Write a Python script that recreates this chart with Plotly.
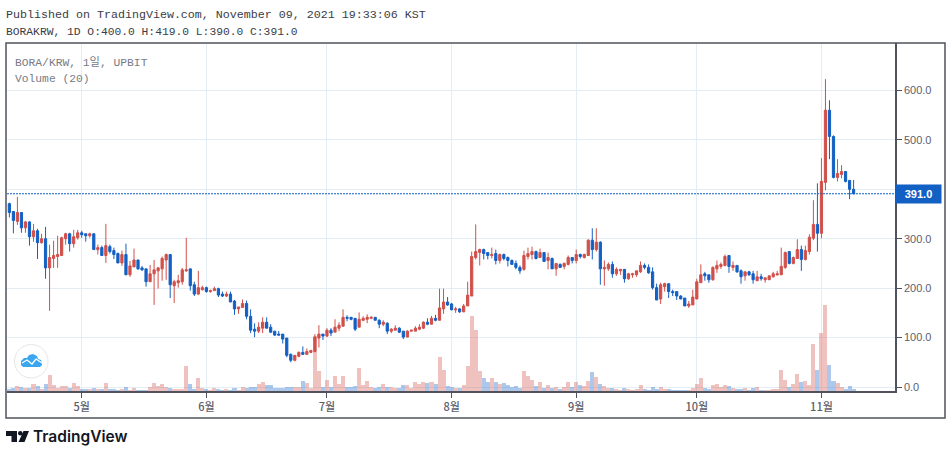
#!/usr/bin/env python3
import pandas as pd
import plotly.graph_objects as pgo

W, H = 952, 455
LEFT, RIGHT, TOP, BOTTOM = 7, 895, 43, 391

RED, BLUE = "#d1504a", "#1360c4"
RED_VOL, BLUE_VOL = "rgba(209,80,74,0.35)", "rgba(19,96,196,0.35)"
GRID, FRAME, GREY = "#e3edf4", "#50535e", "#5d606b"

start_date = "2021-04-13"
tick_dates = ["2021-05-01", "2021-06-01", "2021-07-01", "2021-08-01", "2021-09-01", "2021-10-01", "2021-11-01"]
tick_labels = ["5월", "6월", "7월", "8월", "9월", "10월", "11월"]
price_ticks = [0, 100, 200, 300, 400, 500, 600]
price_labels = ["0.0", "100.0", "200.0", "300.0", "", "500.0", "600.0"]

opens = [
  371,355,335,353,322,334,304,316,292,300,
  241,260,264,266,300,310,290,302,312,310,
  306,310,278,282,266,284,276,270,251,268,
  227,243,257,241,239,213,229,235,239,257,
  268,205,211,213,235,239,207,188,197,201,
  193,195,199,188,184,188,174,158,161,169,
  143,117,113,119,131,121,113,107,107,99,
  66,54,62,70,66,70,72,99,107,103,
  115,111,119,123,141,141,139,121,135,137,
  139,141,135,127,129,113,115,119,113,101,
  113,113,117,119,131,127,139,135,158,172,
  168,156,158,152,164,184,262,272,278,272,
  266,270,256,268,262,256,250,242,238,264,
  268,274,262,272,256,260,239,248,244,248,
  262,256,268,262,266,297,278,293,239,239,
  248,229,235,238,219,227,227,233,246,242,
  233,201,178,203,209,193,193,184,180,164,
  166,178,211,229,227,217,239,244,246,266,
  242,246,235,225,233,229,215,223,217,217,
  223,227,227,242,274,250,260,278,258,274,
  301,329,311,414,560,507,424,430,436,418,400]
highs = [
  373,355,385,353,336,335,330,320,310,324,
  288,296,306,304,312,312,318,318,316,310,
  312,310,288,286,330,288,282,272,276,290,
  255,280,257,245,239,247,257,243,264,270,
  268,217,227,241,302,239,213,235,205,203,
  197,203,201,193,193,193,176,162,177,175,
  157,129,131,141,141,127,113,113,107,99,
  68,64,72,82,78,74,107,125,107,119,
  119,137,131,157,145,141,139,151,143,147,
  143,141,137,135,131,119,125,121,113,115,
  115,123,127,133,139,144,146,199,199,182,
  170,162,160,168,213,274,329,280,280,272,
  282,278,270,270,264,258,256,246,276,282,
  284,276,280,272,272,262,250,250,252,266,
  262,278,270,270,299,321,321,295,256,252,
  254,242,239,238,231,231,235,254,250,248,
  242,209,211,211,209,197,193,186,180,174,
  197,219,248,233,227,244,256,252,268,266,
  254,246,238,233,235,235,235,229,221,225,
  233,235,282,274,274,264,299,286,286,309,
  378,412,463,623,580,509,461,449,436,418,419]
lows = [
  343,311,328,312,312,286,294,259,290,219,
  154,241,241,265,288,274,282,298,302,294,
  302,278,268,266,251,270,259,251,245,227,
  223,243,237,235,203,213,166,199,215,217,
  180,170,201,207,233,195,184,186,195,191,
  191,195,182,182,182,172,146,148,161,137,
  109,101,109,109,119,109,103,105,88,60,
  50,52,60,66,66,70,70,80,95,101,
  103,111,113,123,133,135,113,121,133,129,
  137,135,119,123,107,109,115,109,97,101,
  113,113,115,117,125,127,133,135,148,164,
  156,150,150,152,164,184,258,246,258,258,
  260,248,250,256,244,248,238,229,235,258,
  258,258,262,254,238,239,225,242,238,246,
  250,250,260,260,266,258,274,207,205,235,
  221,225,227,211,217,221,223,231,238,229,
  197,176,168,193,180,184,176,178,164,160,
  166,178,211,215,211,215,231,239,244,231,
  235,231,209,215,225,209,215,215,211,217,
  221,225,227,239,248,248,260,235,256,268,
  297,274,301,398,461,422,416,422,414,380,390]
closes = [
  353,337,353,322,334,304,316,292,300,241,
  262,266,268,302,310,290,304,312,308,306,
  310,278,282,266,286,274,268,251,268,227,
  245,257,239,237,213,229,237,241,260,268,
  207,213,215,237,237,205,188,201,201,193,
  195,199,186,184,188,172,158,162,169,143,
  115,113,121,131,119,111,105,105,97,64,
  54,64,70,66,72,74,101,107,103,115,
  109,121,125,141,139,137,117,137,139,141,
  141,135,127,131,113,117,119,111,101,113,
  115,119,121,131,127,139,135,160,172,166,
  156,158,152,164,186,264,274,278,270,266,
  268,256,268,260,256,248,242,235,266,270,
  274,260,272,254,262,239,250,242,250,262,
  256,268,264,268,297,278,293,239,242,248,
  229,238,238,219,229,229,235,246,242,231,
  201,176,207,209,193,191,184,178,164,168,
  182,213,227,225,217,242,246,248,264,244,
  246,233,223,233,227,217,223,219,221,225,
  229,229,244,272,250,262,278,258,276,303,
  329,311,416,560,507,424,432,436,416,400,391]
volumes = [
  2,3,5,4,3,3,7,5,2,7,
  16,6,3,5,5,3,8,5,2,2,
  2,3,2,2,8,2,2,1,2,4,
  1,3,1,1,1,4,8,5,7,4,
  3,2,2,2,25,7,2,13,3,2,
  1,3,2,1,2,1,3,1,4,3,
  4,4,7,9,6,6,3,3,3,4,
  4,4,4,10,8,3,55,20,4,11,
  4,15,7,15,4,4,5,23,6,10,
  4,3,4,7,4,4,3,3,6,6,
  3,9,7,9,8,9,7,34,21,5,
  4,3,3,6,25,75,61,20,13,9,
  13,9,7,8,6,4,5,3,20,15,
  11,5,9,3,6,3,4,2,4,9,
  4,9,6,5,10,19,14,7,5,3,
  3,2,1,3,2,1,2,6,2,1,
  4,2,4,2,2,1,1,1,1,1,
  3,7,13,3,2,6,7,4,6,5,
  3,2,2,3,1,3,4,1,1,1,
  2,2,21,11,4,7,17,9,10,6,
  47,21,58,86,26,10,8,4,2,5,2]

dates = pd.date_range(start_date, periods=len(closes), freq="D")


def px(x):
  return (x - LEFT) / (RIGHT - LEFT)


def py(y):
  return (BOTTOM - y) / (BOTTOM - TOP)


def path(points):
  return "M " + " L ".join(f"{px(x)} {py(y)}" for x, y in points) + " Z"


def text(x, y, s, size, color, family="Liberation Mono, Noto Sans CJK KR", **kw):
  fig.add_annotation(x=px(x), y=py(y), xref="paper", yref="paper", text=s, showarrow=False,
    xanchor="left", yanchor="middle", xshift=-2, font=dict(family=family, size=size, color=color, **kw))


fig = pgo.Figure()

# Volume stays on the hidden axis so the candles are painted above it
fig.add_trace(pgo.Bar(
  x=dates, y=volumes, yaxis="y", width=86400000,
  marker=dict(color=[RED_VOL if c > o else BLUE_VOL for o, c in zip(opens, closes)], line=dict(width=0)),
  showlegend=False, hoverinfo="skip"))
fig.add_trace(pgo.Candlestick(
  x=dates, open=opens, high=highs, low=lows, close=closes, yaxis="y2", whiskerwidth=0,
  increasing=dict(line=dict(color=RED, width=1), fillcolor=RED),
  decreasing=dict(line=dict(color=BLUE, width=1), fillcolor=BLUE),
  showlegend=False))

fig.update_layout(
  width=W, height=H, autosize=False,
  margin=dict(l=LEFT, r=W - RIGHT, t=TOP, b=H - BOTTOM),
  paper_bgcolor="white", plot_bgcolor="white",
  font=dict(family="Liberation Sans, Noto Sans CJK KR", size=11, color=GREY),
  bargap=0, boxgap=0.45, boxgroupgap=0,
  xaxis=dict(
    type="date", range=["2021-04-12 09:50", "2021-11-19 07:10"], rangeslider=dict(visible=False),
    tickmode="array", tickvals=tick_dates, ticktext=tick_labels, ticks="outside", ticklen=5, tickcolor=FRAME,
    tickfont=dict(family="Noto Sans CJK KR, Liberation Sans", size=11, color=GREY, weight=500),
    showgrid=True, gridcolor=GRID, gridwidth=1, zeroline=False, showline=True, linecolor=FRAME, linewidth=1.5),
  yaxis=dict(range=[0, 348], visible=False, showgrid=False, fixedrange=True),
  yaxis2=dict(
    range=[-8.1, 696], overlaying="y", side="right", anchor="x",
    tickmode="array", tickvals=price_ticks, ticktext=price_labels, ticks="outside", ticklen=5, tickcolor=FRAME,
    showgrid=True, gridcolor=GRID, gridwidth=1, zeroline=False, showline=True, linecolor=FRAME, linewidth=1.5),
)

# last price line and tag
fig.add_shape(type="line", xref="paper", x0=0, x1=1, yref="y2", y0=closes[-1], y1=closes[-1],
  line=dict(color=BLUE, width=1, dash="2px,1px"))
fig.add_annotation(x=1, xref="paper", xanchor="left", y=closes[-1], yref="y2", text=f"<b>{closes[-1]:.1f}</b>",
  showarrow=False, width=41, height=14, borderpad=2, bgcolor=BLUE, align="center",
  font=dict(family="Liberation Sans", size=11, color="white"))

# outer frame
fig.add_shape(type="rect", xref="paper", yref="paper", x0=px(6), x1=px(945), y0=py(418), y1=py(43),
  line=dict(color=FRAME, width=1.5), fillcolor="rgba(0,0,0,0)")

text(6, 15, "Published on TradingView.com, November 09, 2021 19:33:06 KST", 11.67, "#3a3d46")
text(6, 32, "BORAKRW, 1D O:400.0 H:419.0 L:390.0 C:391.0", 11.3, "#3a3d46")
text(15, 62, "BORA/KRW, 1일, UPBIT", 11.3, "#787b86")
text(15, 79, "Volume (20)", 11.3, "#787b86")

# badge on the chart
fig.add_shape(type="circle", xref="paper", yref="paper", x0=px(14.5), x1=px(48), y0=py(378), y1=py(344.5),
  line=dict(color="#e6e6e6", width=1), fillcolor="white")
fig.add_shape(type="path", xref="paper", yref="paper",
  path=path([(21, 365), (21, 361), (24, 358), (27, 358), (29, 355), (33, 354), (37, 356), (38, 359), (41, 360), (42, 363), (42, 365), (40, 367), (23, 367)]),
  line=dict(width=0), fillcolor="#3aa6f0")
fig.add_shape(type="path", xref="paper", yref="paper",
  path="M " + " L ".join(f"{px(x)} {py(y)}" for x, y in [(22, 363), (27, 360), (32, 364), (36, 359), (42, 363)]),
  line=dict(color="white", width=1.3), fillcolor="rgba(0,0,0,0)")

# TradingView mark and wordmark
fig.add_shape(type="path", xref="paper", yref="paper",
  path=path([(6, 431), (17, 431), (17, 442), (11.5, 442), (11.5, 436), (6, 436)]), line=dict(width=0), fillcolor="#131722")
fig.add_shape(type="circle", xref="paper", yref="paper", x0=px(18), x1=px(22.5), y0=py(435.5), y1=py(431),
  line=dict(width=0), fillcolor="#131722")
fig.add_shape(type="path", xref="paper", yref="paper",
  path=path([(23.5, 431), (29, 431), (24.5, 442), (18.5, 442)]), line=dict(width=0), fillcolor="#131722")
text(33, 436, "TradingView", 15.5, "#131722", family="Inter, Noto Sans", weight=600)

fig.write_html("out.html", config=dict(displayModeBar=False),
  post_script="document.body.style.margin='0';document.body.style.overflow='hidden';")
